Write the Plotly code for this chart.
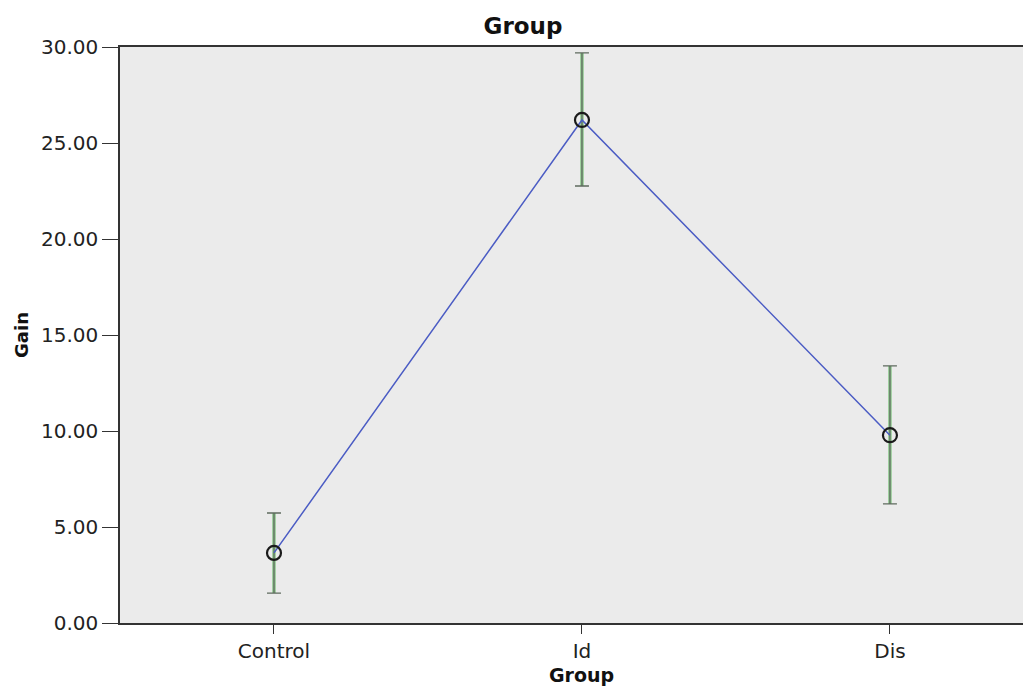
import plotly.graph_objects as go

groups = ["Control", "Id", "Dis"]
mean_gain = [3.65, 26.2, 9.78]
upper_ci = [5.73, 29.69, 13.39]
lower_ci = [1.56, 22.76, 6.2]
y_ticks = [0, 5, 10, 15, 20, 25, 30]
y_tick_labels = ["0.00", "5.00", "10.00", "15.00", "20.00", "25.00", "30.00"]

err_plus = [u - m for u, m in zip(upper_ci, mean_gain)]
err_minus = [m - l for m, l in zip(mean_gain, lower_ci)]

W, H = 1023, 679  # page body has an 8px offset inside the 1031x687 window
L, T, B = 112, 39, 64
plot_h = H - T - B

fig = go.Figure()
# green stem
fig.add_trace(go.Scatter(
    x=groups, y=mean_gain, mode="markers",
    marker=dict(size=1, color="rgba(0,0,0,0)"),
    error_y=dict(type="data", symmetric=False, array=err_plus, arrayminus=err_minus,
                 color="#8cc88c", thickness=3.5, width=0),
    showlegend=False, hoverinfo="skip"))
# dark core with caps
fig.add_trace(go.Scatter(
    x=groups, y=mean_gain, mode="markers",
    marker=dict(size=1, color="rgba(0,0,0,0)"),
    error_y=dict(type="data", symmetric=False, array=err_plus, arrayminus=err_minus,
                 color="#5f6b5f", thickness=1.3, width=7),
    showlegend=False, hoverinfo="skip"))
# mean line and markers
fig.add_trace(go.Scatter(
    x=groups, y=mean_gain, mode="lines+markers",
    line=dict(color="#4b5cc4", width=1.5),
    marker=dict(symbol="circle-open", size=14, color="#1a1a1a", line=dict(width=2.2, color="#1a1a1a")),
    showlegend=False))

fig.update_layout(
    width=W, height=H,
    margin=dict(l=L, r=0, t=T, b=B),
    paper_bgcolor="white",
    plot_bgcolor="#ebebeb",
    font=dict(family="DejaVu Sans, sans-serif", size=20, color="#222"),
    title=dict(text="<b>Group</b>", x=515 / W, xanchor="center", y=1 - 18 / H, yanchor="middle",
               font=dict(size=23, color="#111")),
    annotations=[dict(
        text="<b>Group</b>", x="Id", xref="x", xanchor="center",
        y=(615 - 667) / plot_h, yref="paper", yanchor="middle",
        showarrow=False, font=dict(size=19, color="#111"))],
)
fig.update_xaxes(
    type="category", range=[-0.5, 2.458],
    showline=True, linecolor="#333", linewidth=1.5, mirror=True,
    ticks="outside", ticklen=9, tickcolor="#333", tickwidth=1.3,
    showgrid=False, zeroline=False,
    tickfont=dict(size=20),
)
fig.update_yaxes(
    range=[0, 30], tickvals=y_ticks, ticktext=y_tick_labels,
    showline=True, linecolor="#333", linewidth=1.5, mirror=False,
    ticks="outside", ticklen=16, tickcolor="#333", tickwidth=1.3,
    showgrid=False, zeroline=False,
    title=dict(text="<b>Gain</b>", font=dict(size=18, color="#111"), standoff=8),
    tickfont=dict(size=20),
)

fig.write_html("out.html")
